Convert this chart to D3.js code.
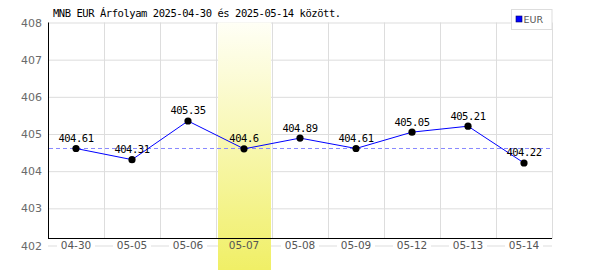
<!DOCTYPE html>
<html>
<head>
<meta charset="utf-8">
<script src="https://cdn.jsdelivr.net/npm/d3@7"></script>
<style>
  body { margin: 0; background: #fff; }
  svg { display: block; }
</style>
</head>
<body>
<script>
var width = 600;
var height = 270;

// data
var dates = ["04-30", "05-05", "05-06", "05-07", "05-08", "05-09", "05-12", "05-13", "05-14"];
var eur = [404.61, 404.31, 405.35, 404.6, 404.89, 404.61, 405.05, 405.21, 404.22];
var yTicks = [402, 403, 404, 405, 406, 407, 408];
var highlightDate = "05-07";
var refValue = 404.61;
var title = "MNB EUR Árfolyam 2025-04-30 és 2025-05-14 között.";
var seriesName = "EUR";

var plotLeft = 48, plotRight = 552, plotTop = 22.5, axisY = 238.5;

var x = d3.scaleBand().domain(dates).range([plotLeft, plotRight]);
var y = d3.scaleLinear().domain([402, 408]).range([245.5, plotTop]);

var svg = d3.select("body").append("svg")
  .attr("width", width)
  .attr("height", height);

var defs = svg.append("defs");
var grad = defs.append("linearGradient")
  .attr("id", "hl").attr("x1", 0).attr("y1", 0).attr("x2", 0).attr("y2", 1);
grad.append("stop").attr("offset", "0%").attr("stop-color", "#fffff6");
grad.append("stop").attr("offset", "100%").attr("stop-color", "#f0ef66");

var mono = "'DejaVu Sans Mono','Liberation Mono',monospace";
var sans = "'DejaVu Sans','Liberation Sans',sans-serif";

// layers
var gGrid = svg.append("g");
var gBand = svg.append("g");
var gTop = svg.append("g");

// horizontal gridlines (y axis)
var yAxis = d3.axisLeft(y).tickValues(yTicks).tickFormat(d3.format("d"))
  .tickSize(-(plotRight - plotLeft)).tickPadding(6);
var gy = gGrid.append("g")
  .attr("transform", "translate(" + plotLeft + ",0)")
  .call(yAxis);
gy.select(".domain").remove();
gy.selectAll(".tick line").attr("stroke", "#dddddd");
gy.selectAll(".tick text")
  .attr("fill", "#6a6a6a")
  .style("font-family", sans)
  .style("font-size", "11px");

// vertical gridlines at band edges
gGrid.append("g").selectAll("line")
  .data(dates.slice(1).concat(["end"]))
  .enter().append("line")
  .attr("x1", function (d) { return Math.round(d == "end" ? plotRight : x(d)) + 0.5; })
  .attr("x2", function (d) { return Math.round(d == "end" ? plotRight : x(d)) + 0.5; })
  .attr("y1", plotTop)
  .attr("y2", axisY)
  .attr("stroke", "#dddddd");

// x axis labels with white boxes
var xAxis = d3.axisBottom(x).tickSize(0).tickPadding(0);
var gx = gGrid.append("g")
  .attr("transform", "translate(0," + y(402) + ")")
  .call(xAxis);
gx.select(".domain").remove();
gx.selectAll(".tick").insert("rect", "text")
  .attr("x", -19).attr("y", -6).attr("width", 38).attr("height", 12)
  .attr("fill", "#fff");
gx.selectAll(".tick text")
  .attr("y", 0)
  .attr("dy", "0.35em")
  .attr("fill", "#555")
  .style("font-family", sans)
  .style("font-size", "10.5px");

// highlighted day
gBand.append("rect")
  .attr("x", x(highlightDate) + 2)
  .attr("y", plotTop)
  .attr("width", x.bandwidth() - 3)
  .attr("height", height - plotTop)
  .attr("fill", "url(#hl)");
// label of the highlighted day goes above the band
gBand.append("text")
  .attr("x", x(highlightDate) + x.bandwidth() / 2)
  .attr("y", y(402))
  .attr("dy", "0.35em")
  .attr("text-anchor", "middle")
  .attr("fill", "#555")
  .style("font-family", sans)
  .style("font-size", "10.5px")
  .text(highlightDate);

// axis lines
gTop.append("line")
  .attr("x1", plotLeft + 0.5).attr("x2", plotLeft + 0.5)
  .attr("y1", plotTop).attr("y2", axisY)
  .attr("stroke", "#000");
gTop.append("line")
  .attr("x1", plotLeft).attr("x2", plotRight)
  .attr("y1", axisY).attr("y2", axisY)
  .attr("stroke", "#000");

// reference line
gTop.append("line")
  .attr("x1", plotLeft + 1).attr("x2", plotRight)
  .attr("y1", y(refValue)).attr("y2", y(refValue))
  .attr("stroke", "#8888ff")
  .attr("stroke-dasharray", "4,3");

var cx = function (d, i) { return x(dates[i]) + x.bandwidth() / 2; };

var line = d3.line()
  .x(function (d, i) { return cx(d, i); })
  .y(function (d) { return y(d); });

gTop.append("path")
  .datum(eur)
  .attr("d", line)
  .attr("fill", "none")
  .attr("stroke", "#0000ff")
  .attr("stroke-width", 1);

gTop.append("g").selectAll("circle")
  .data(eur)
  .enter().append("circle")
  .attr("cx", cx)
  .attr("cy", function (d) { return y(d); })
  .attr("r", 3.6)
  .attr("fill", "#000");

gTop.append("g").selectAll("text")
  .data(eur)
  .enter().append("text")
  .attr("x", cx)
  .attr("y", function (d) { return y(d) - 6.5; })
  .attr("text-anchor", "middle")
  .style("font-family", mono)
  .style("font-size", "10.5px")
  .style("letter-spacing", "-0.45px")
  .attr("fill", "#000")
  .text(function (d) { return String(d); });

// title
gTop.append("text")
  .attr("x", 53)
  .attr("y", 17)
  .style("font-family", mono)
  .style("font-size", "10.5px")
  .style("letter-spacing", "-0.45px")
  .attr("fill", "#000")
  .text(title);

// legend
var lg = gTop.append("g");
lg.append("rect")
  .attr("x", 511.5).attr("y", 9.5).attr("width", 40.5).attr("height", 20)
  .attr("fill", "#fff").attr("stroke", "#dddddd");
lg.append("rect")
  .attr("x", 516).attr("y", 16).attr("width", 6).attr("height", 6)
  .attr("fill", "#0000ff").attr("stroke", "#000066").attr("stroke-width", 0.6);
lg.append("text")
  .attr("x", 523.5).attr("y", 23)
  .style("font-family", sans)
  .style("font-size", "9.5px")
  .attr("fill", "#555")
  .text(seriesName);
</script>
</body>
</html>
